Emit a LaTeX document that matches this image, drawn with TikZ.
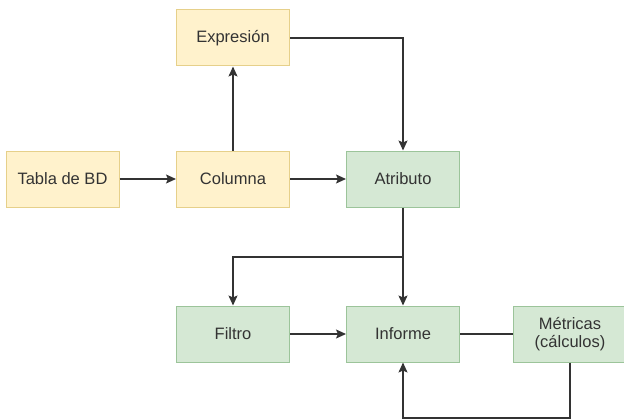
\documentclass[tikz,border=0pt]{standalone}
\usepackage{fontspec}
\setmainfont{Liberation Sans}
\usetikzlibrary{arrows.meta}
\definecolor{yfill}{HTML}{FFF2CC}
\definecolor{ydraw}{HTML}{E6D08A}
\definecolor{gfill}{HTML}{D5E8D4}
\definecolor{gdraw}{HTML}{9CC49A}
\definecolor{ink}{HTML}{333333}
\begin{document}
\begin{tikzpicture}[x=1pt,y=-1pt,
  box/.style={draw, line width=1pt, minimum width=113pt, minimum height=56pt, inner sep=0pt,
    align=center, font=\fontsize{16.5}{18.5}\selectfont, text=ink},
  ybox/.style={box, fill=yfill, draw=ydraw},
  gbox/.style={box, fill=gfill, draw=gdraw},
  conn/.style={draw=ink, line width=1.3pt},
  arr/.style={conn, -{Stealth[length=10pt,width=9pt,inset=2pt]}}]
\useasboundingbox (0,0) rectangle (624,420);
\node[ybox] (tabla) at (62.5,179) {Tabla de BD};
\node[ybox] (col) at (233,179) {Columna};
\node[ybox] (exp) at (233,38) {Expresión};
\node[gbox] (atr) at (403,179) {Atributo};
\node[gbox] (fil) at (233,334) {Filtro};
\node[gbox] (inf) at (403,334) {Informe};
\node[gbox] (met) at (570,334) {Métricas\\(cálculos)};
\coordinate (br) at (403,257);
\coordinate (lb) at (570,418);
\draw[arr] (tabla) -- (col);
\draw[arr] (col) -- (atr);
\draw[arr] (col) -- (exp);
\draw[arr] (exp.east) -| (atr.north);
\draw[arr] (atr.south) -- (inf.north);
\draw[arr] (br) -| (fil.north);
\draw[arr] (fil) -- (inf);
\draw[conn] (inf) -- (met);
\draw[arr] (met.south) -- (lb) -| (inf.south);
\end{tikzpicture}
\end{document}
